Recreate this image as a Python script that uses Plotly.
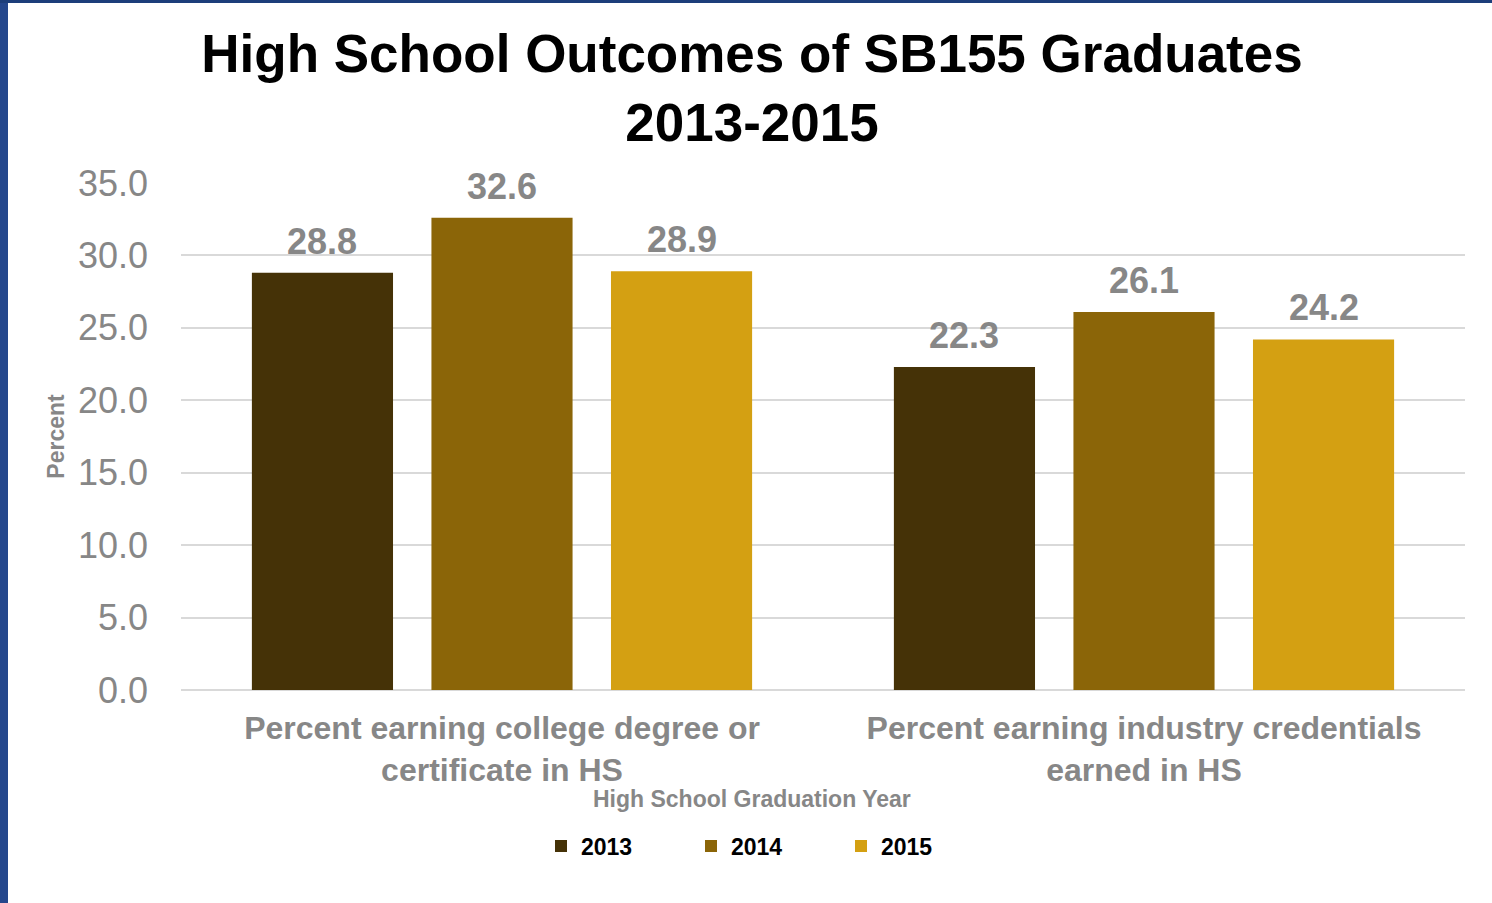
import plotly.graph_objects as go

categories = ["Percent earning college degree or<br>certificate in HS",
              "Percent earning industry credentials<br>earned in HS"]
years = ["2013", "2014", "2015"]
values_2013 = [28.8, 22.3]
values_2014 = [32.6, 26.1]
values_2015 = [28.9, 24.2]
series = [values_2013, values_2014, values_2015]
colors = ["#453207", "#8B6508", "#D4A012"]
yticks = [0, 5, 10, 15, 20, 25, 30, 35]

W, H = 1492, 903
ML, MR, MT, MB = 181, 27, 183, 213
BARGAP = 0.161
GROUPGAP = 0.214
GRAY = "#878787"
FONT = "Liberation Sans, Arial, sans-serif"

pw = W - ML - MR
ph = H - MT - MB


def px_to_paper_x(px):
    return (px - ML) / pw


def px_to_paper_y(py):
    return (H - MB - py) / ph


fig = go.Figure()
for yr, vals, col in zip(years, series, colors):
    fig.add_trace(go.Bar(x=categories, y=vals, name=yr, marker_color=col,
                         marker_line_width=0))

# data labels as annotations above each bar
cat_px = pw / len(categories)
slot = cat_px * (1 - BARGAP) / len(years)
for i, vals in enumerate(series):
    for c, v in zip(categories, vals):
        fig.add_annotation(x=c, y=v, xref="x", yref="y", text=f"{v:.1f}",
                           showarrow=False, yanchor="bottom",
                           xshift=(i - 1) * slot, yshift=9,
                           font=dict(family=FONT, size=36, color=GRAY, weight="bold"))

# x axis title as annotation
fig.add_annotation(x=px_to_paper_x(752), y=px_to_paper_y(799), xref="paper", yref="paper",
                   text="<b>High School Graduation Year</b>", showarrow=False,
                   xanchor="center", yanchor="middle",
                   font=dict(family=FONT, size=23, color=GRAY))

# border shapes (blue frame at left and top)
fig.add_shape(type="rect", xref="paper", yref="paper",
              x0=px_to_paper_x(0), x1=px_to_paper_x(8),
              y0=px_to_paper_y(H), y1=px_to_paper_y(0),
              fillcolor="#25478C", line_width=0, layer="above")
fig.add_shape(type="rect", xref="paper", yref="paper",
              x0=px_to_paper_x(0), x1=px_to_paper_x(W),
              y0=px_to_paper_y(3), y1=px_to_paper_y(0),
              fillcolor="#1D3E7A", line_width=0, layer="above")

fig.update_layout(
    width=W, height=H,
    margin=dict(l=ML, r=MR, t=MT, b=MB, autoexpand=False),
    paper_bgcolor="white", plot_bgcolor="white",
    barmode="group", bargap=BARGAP, bargroupgap=GROUPGAP,
    font=dict(family=FONT),
    title=dict(text="<b>High School Outcomes of SB155 Graduates<br>2013-2015</b>",
               x=752 / W, xanchor="center", xref="container",
               y=1 - 72 / H, yanchor="top", yref="container",
               font=dict(family=FONT, size=53, color="black")),
    legend=dict(orientation="h", x=766 / W, xref="container", xanchor="center",
                y=1 - 846 / H, yref="container", yanchor="middle",
                entrywidth=105, entrywidthmode="pixels",
                font=dict(family=FONT, size=23, color="black", weight="bold"),
                itemsizing="constant"),
    showlegend=True,
)
fig.update_xaxes(showgrid=False, showline=False, ticks="", automargin=False,
                 tickfont=dict(family=FONT, size=32, color=GRAY, weight="bold"),
                 ticklabelstandoff=16)
fig.update_yaxes(range=[0, 35], tickvals=yticks, tickformat=".1f",
                 showgrid=True, gridcolor="#D9D9D9", gridwidth=2,
                 zeroline=True, zerolinecolor="#D9D9D9", zerolinewidth=2,
                 showline=False, ticks="", automargin=False,
                 tickfont=dict(family=FONT, size=36, color=GRAY),
                 ticklabelstandoff=32,
                 title=dict(text="<b>Percent</b>", standoff=6,
                            font=dict(family=FONT, size=23, color=GRAY)))

fig.write_html("out.html", config={"displayModeBar": False},
               post_script="document.body.style.margin='0';")
